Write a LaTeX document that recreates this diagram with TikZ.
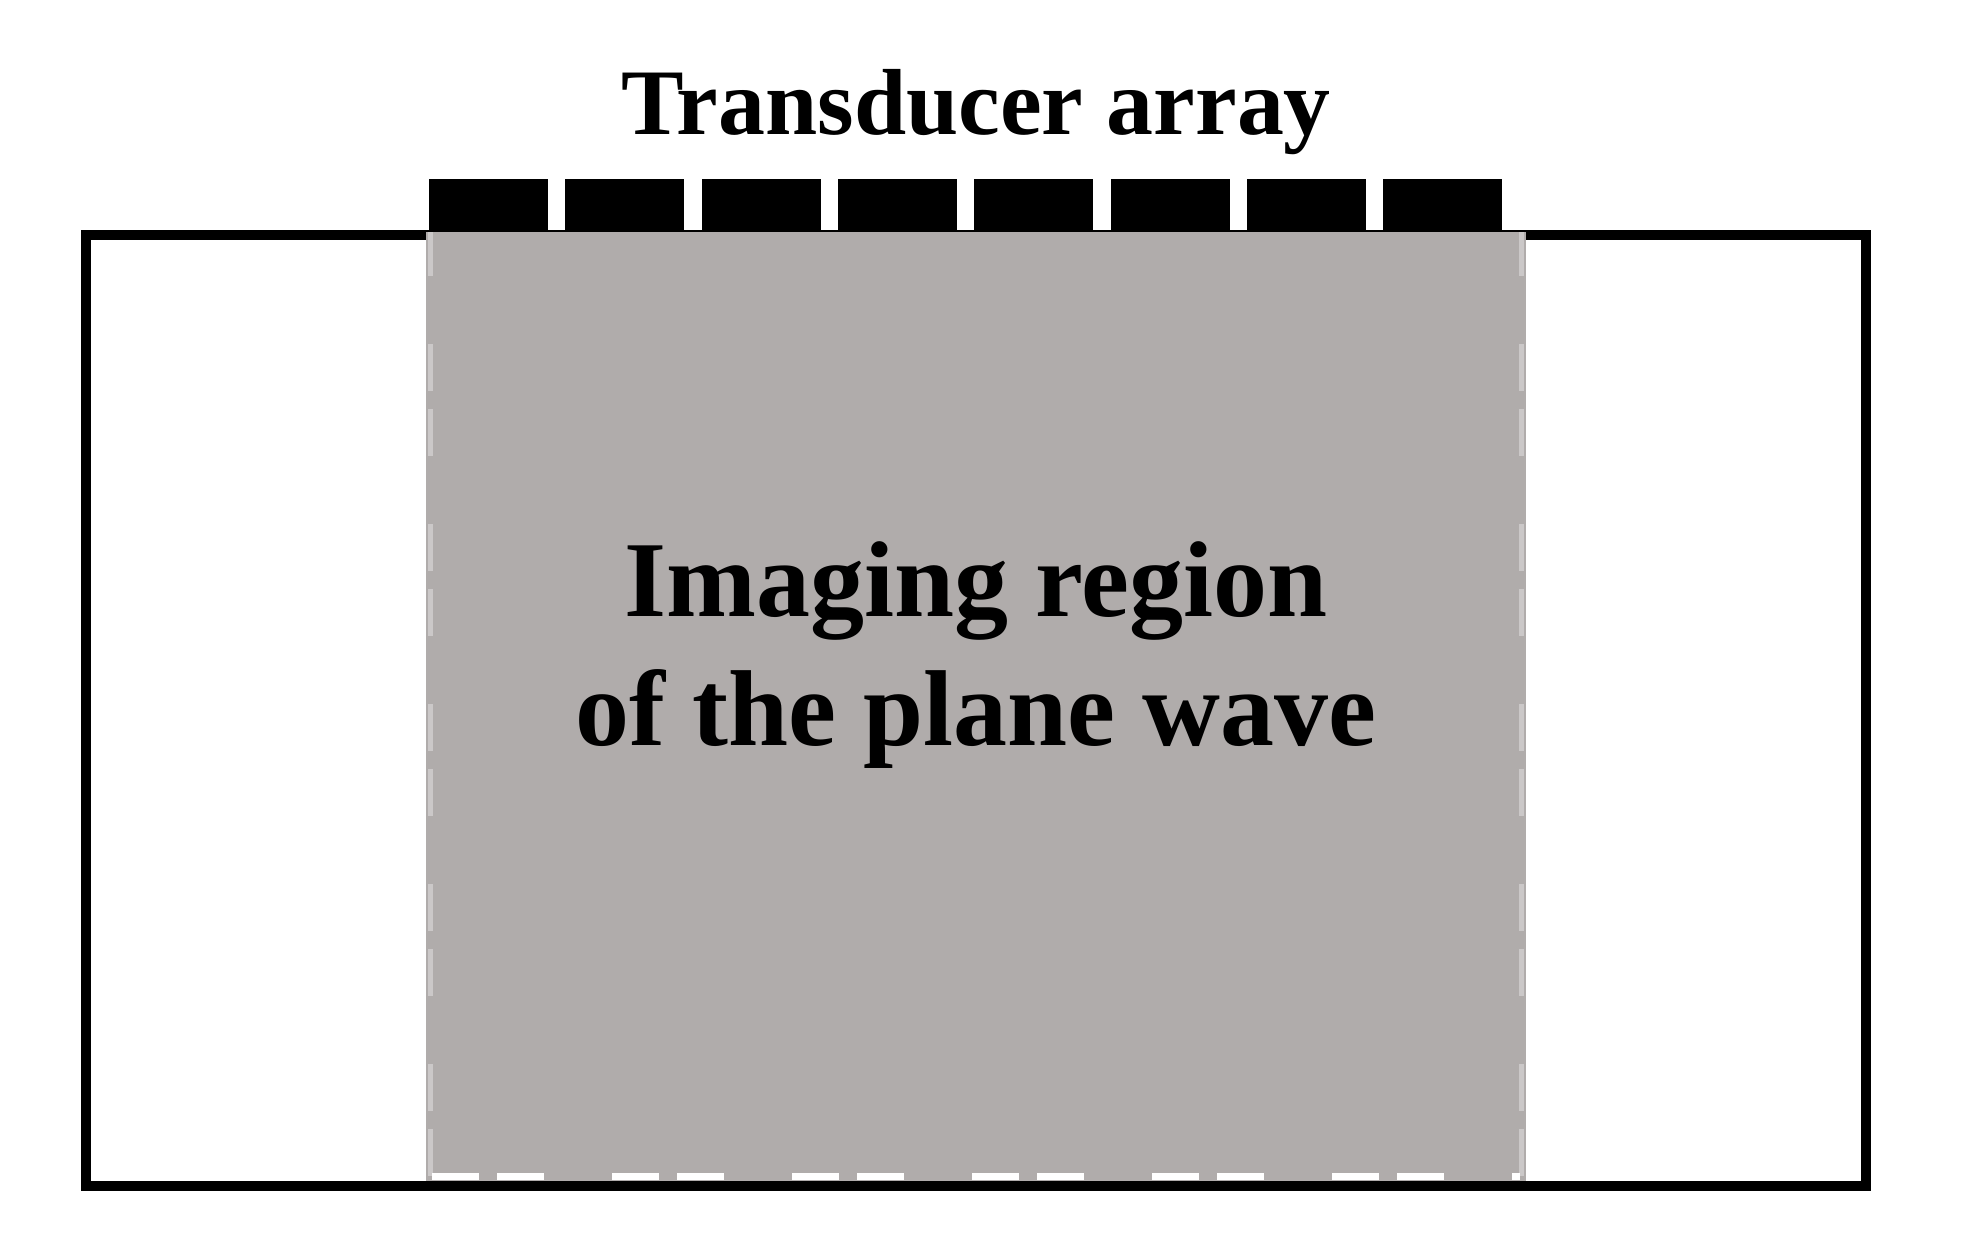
\documentclass[tikz,border=0pt]{standalone}
\usepackage{fontspec}
\setmainfont{Liberation Serif}
\definecolor{regiongray}{RGB}{176,172,171}

\begin{document}
\begin{tikzpicture}[elem/.style={fill=black, minimum width=1.19cm, minimum height=0.53cm, inner sep=0, outer sep=0}]
\useasboundingbox (0,0) rectangle (19.63,12.49);

\node (M) at (9.76,5.3825) [draw, line width=0.1cm, minimum width=17.8cm, minimum height=9.505cm, inner sep=0, outer sep=0]{};

\node (R) at (9.76,5.425) [fill=regiongray, minimum width=11cm, minimum height=9.49cm, inner sep=0, outer sep=0]{};
\draw [white, line width=0.07cm, dash pattern=on 0.47cm off 0.18cm on 0.47cm off 0.68cm]
  ([shift={(0.06,0.05)}]R.south west) -- ([shift={(-0.06,0.05)}]R.south east);
\draw [white, opacity=0.35, line width=0.05cm, dash pattern=on 0.47cm off 0.18cm on 0.47cm off 0.68cm]
  ([shift={(0.04,0.05)}]R.south west) -- ([shift={(0.04,0)}]R.north west)
  ([shift={(-0.05,0.05)}]R.south east) -- ([shift={(-0.05,0)}]R.north east);

\node (T-1) at (4.885,10.435) [elem]{};
\node (T-2) at (6.248,10.435) [elem]{};
\node (T-3) at (7.611,10.435) [elem]{};
\node (T-4) at (8.974,10.435) [elem]{};
\node (T-5) at (10.337,10.435) [elem]{};
\node (T-6) at (11.700,10.435) [elem]{};
\node (T-7) at (13.063,10.435) [elem]{};
\node (T-8) at (14.426,10.435) [elem]{};

\node (A) at (9.76,11.14) [anchor=base, inner sep=0, font=\fontsize{26.7pt}{32pt}\selectfont\bfseries]{Transducer array};

\node (L) at (9.76,5.94) [align=center, inner sep=0, font=\fontsize{30.7pt}{36.7pt}\selectfont\bfseries]{Imaging region\\of the plane wave};

\end{tikzpicture}
\end{document}
